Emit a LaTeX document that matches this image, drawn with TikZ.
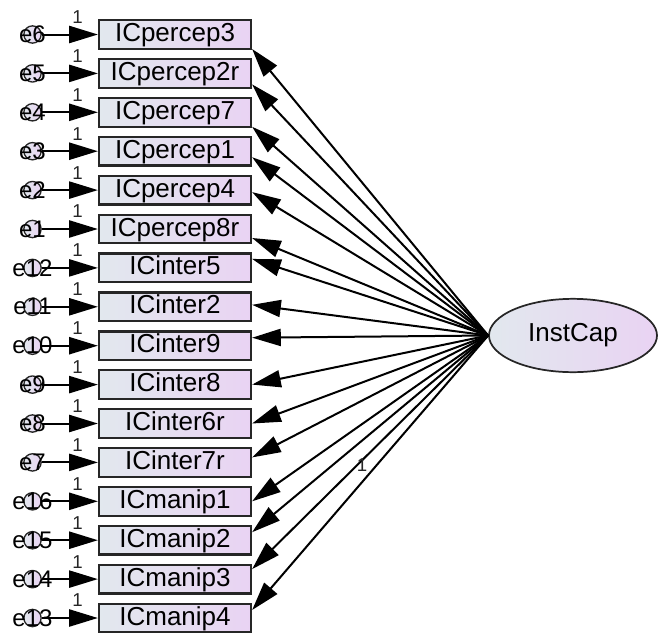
\documentclass[tikz,border=0pt]{standalone}
\usepackage{fontspec}
\setmainfont{Liberation Sans}
\usetikzlibrary{arrows.meta,shapes.geometric}
\definecolor{shadeL}{HTML}{E2E8EE}
\definecolor{shadeR}{HTML}{E9D3F3}
\begin{document}
\begin{tikzpicture}[x=0.75pt,y=-0.75pt,
  obs/.style={draw=black!85, line width=1.7pt, left color=shadeL, right color=shadeR,
    minimum width=114pt, minimum height=21.5pt, inner sep=0pt,
    text height=14pt, text depth=3.5pt, font=\fontsize{19.5}{22}\selectfont},
  latent/.style={ellipse, draw=black!85, line width=1.3pt, left color=shadeL, right color=shadeR,
    minimum width=126pt, minimum height=55pt, inner sep=0pt,
    font=\fontsize{19.5}{22}\selectfont},
  errc/.style={circle, draw=black!85, line width=1pt, left color=shadeL, right color=shadeR,
    minimum size=13pt, inner sep=0pt},
  errlab/.style={font=\fontsize{18}{20}\selectfont, inner sep=0pt},
  one/.style={font=\fontsize{14}{16}\selectfont, text=black!85, inner sep=0pt},
  link/.style={line width=1.5pt, draw=black, -{Triangle[length=21.5pt,width=12.8pt]}}]
\useasboundingbox (0,0) rectangle (658,636);

% latent factor
\node[latent] (lat) at (573,335.5) {InstCap};

% indicators with their error terms and loadings
\foreach \i/\name/\err/\off [count=\k] in {
  0/ICpercep3/e6/14.5,
  1/ICpercep2r/e5/11,
  2/ICpercep7/e4/14.5,
  3/ICpercep1/e3/6,
  4/ICpercep4/e2/2,
  5/ICpercep8r/e1/9,
  6/ICinter5/e12/-9,
  7/ICinter2/e11/-2,
  8/ICinter9/e10/-8,
  9/ICinter8/e9/0,
  10/ICinter6r/e8/0,
  11/ICinter7r/e7/-5,
  12/ICmanip1/e16/0,
  13/ICmanip2/e15/-8,
  14/ICmanip3/e14/-10,
  15/ICmanip4/e13/-8}{
  \pgfmathsetmacro\cy{34.5+38.9*\i}
  \node[obs] (b\k) at (175,\cy) {\name};
  \node[errc, label={[errlab]center:\err}] (e\k) at (32.5,\cy) {};
  \draw[link] (e\k) -- (b\k);
  \node[one] (n\k) at (77.5,\cy-17.5) {1};
  \draw[link] (lat.west) -- ([yshift={-(\off)*0.75pt}]b\k.east);
}

% fixed loading on the ICmanip3 path
\node[one] (fix) at (362,465) {1};
\end{tikzpicture}
\end{document}
